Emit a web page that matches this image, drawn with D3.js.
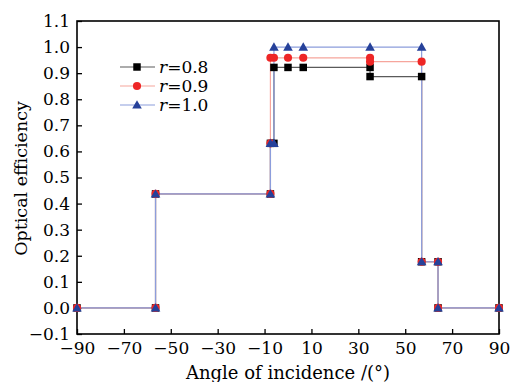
<!DOCTYPE html>
<html><head><meta charset="utf-8">
<script src="https://cdn.jsdelivr.net/npm/d3@7"></script>
<style>body{margin:0;background:#fff}svg{display:block}text{font-family:"DejaVu Serif",serif;fill:#000}</style>
</head><body><svg id="c" width="512" height="382"></svg>
<script>
const xTicks = [-90,-70,-50,-30,-10,10,30,50,70,90];
const yTicks = [-0.1,0,0.1,0.2,0.3,0.4,0.5,0.6,0.7,0.8,0.9,1.0,1.1];
const seriesNames = ["0.8","0.9","1.0"];
const angR08 = [-90,-56.5,-56.5,-7.5,-7.5,-6,-6,0,6.5,35,35,57,57,64,64,90];
const effR08 = [0,0,0.437,0.437,0.631,0.631,0.922,0.922,0.922,0.922,0.887,0.887,0.177,0.177,0,0];
const angR09 = [-90,-56.5,-56.5,-7.5,-7.5,-7.5,-6,0,6.5,35,35,57,57,64,64,90];
const effR09 = [0,0,0.437,0.437,0.631,0.959,0.959,0.959,0.959,0.959,0.944,0.944,0.177,0.177,0,0];
const angR10 = [-90,-56.5,-56.5,-7.5,-7.5,-6,-6,0,6.5,35,57,57,64,64,90];
const effR10 = [0,0,0.437,0.437,0.631,0.631,1.0,1.0,1.0,1.0,1.0,0.177,0.177,0,0];

const svg = d3.select("#c");
const L=77,R=499,T=21,B=334;
const x = d3.scaleLinear().domain([-90,90]).range([L,R]);
const y = d3.scaleLinear().domain([-0.1,1.1]).range([B,T]);

const series = [
  {name:seriesNames[0], a:angR08, e:effR08, line:"#5a5a5a", fill:"#000", shape:"square"},
  {name:seriesNames[1], a:angR09, e:effR09, line:"#f6a59c", fill:"#ee2626", shape:"circle"},
  {name:seriesNames[2], a:angR10, e:effR10, line:"#8c9ddc", fill:"#26419a", shape:"triangle"}
];
const sym = {square:d3.symbolSquare, circle:d3.symbolCircle, triangle:d3.symbolTriangle};
const size = {square:56, circle:52, triangle:40};

// axes
const xa = svg.append("g").attr("transform",`translate(0,${B})`)
  .call(d3.axisBottom(x).tickValues(xTicks).tickSizeInner(-5).tickSizeOuter(0).tickPadding(10)
    .tickFormat(d=>d<0?"\u2212"+Math.abs(d):d));
xa.select(".domain").remove();
xa.selectAll("line").attr("stroke","#000").attr("stroke-width",1.3);
xa.selectAll("text").attr("font-size",17).attr("font-family","DejaVu Serif").attr("dy","0.71em").attr("y",8);
const ya = svg.append("g").attr("transform",`translate(${L},0)`)
  .call(d3.axisLeft(y).tickValues(yTicks).tickSizeInner(-5).tickSizeOuter(0).tickPadding(8)
    .tickFormat(d=>(d<0?"\u2212":"")+Math.abs(d).toFixed(1)));
ya.select(".domain").remove();
ya.selectAll("line").attr("stroke","#000").attr("stroke-width",1.3);
ya.selectAll("text").attr("font-size",17).attr("font-family","DejaVu Serif").attr("x",-7);

// frame
svg.append("rect").attr("x",L).attr("y",T).attr("width",R-L).attr("height",B-T)
  .attr("fill","none").attr("stroke","#000").attr("stroke-width",1.6);

const line = d3.line().x(d=>x(d[0])).y(d=>y(d[1]));
series.forEach(s=>{
  const pts = s.a.map((a,i)=>[a,s.e[i]]);
  svg.append("path").datum(pts).attr("d",line).attr("fill","none")
    .attr("stroke",s.line).attr("stroke-width",1.2);
});
series.forEach(s=>{
  const pts = s.a.map((a,i)=>[a,s.e[i]]);
  svg.append("g").selectAll("path").data(pts).join("path")
    .attr("transform",d=>`translate(${x(d[0])},${y(d[1])+(s.shape==="triangle"?0.8:0)})`)
    .attr("d",d3.symbol().type(sym[s.shape]).size(size[s.shape]))
    .attr("fill",s.fill);
});

// legend
const lg = svg.append("g");
series.forEach((s,i)=>{
  const yy = 67 + i*19;
  lg.append("line").attr("x1",120).attr("x2",155).attr("y1",yy).attr("y2",yy)
    .attr("stroke",s.line).attr("stroke-width",1.2);
  lg.append("path").attr("transform",`translate(137,${yy+(s.shape==="triangle"?0.8:0)})`)
    .attr("d",d3.symbol().type(sym[s.shape]).size(size[s.shape])).attr("fill",s.fill);
  const t = lg.append("text").attr("x",159).attr("y",yy).attr("dy","0.35em").attr("font-size",17);
  t.append("tspan").attr("font-style","italic").text("r");
  t.append("tspan").text("="+s.name);
});

// titles
svg.append("text").attr("x",(L+R)/2).attr("y",379).attr("text-anchor","middle")
  .attr("font-size",18).text("Angle of incidence /(\u00B0)");
svg.append("text").attr("transform",`translate(27,${(T+B)/2+1}) rotate(-90)`).attr("text-anchor","middle")
  .attr("font-size",17.5).text("Optical efficiency");
</script></body></html>
